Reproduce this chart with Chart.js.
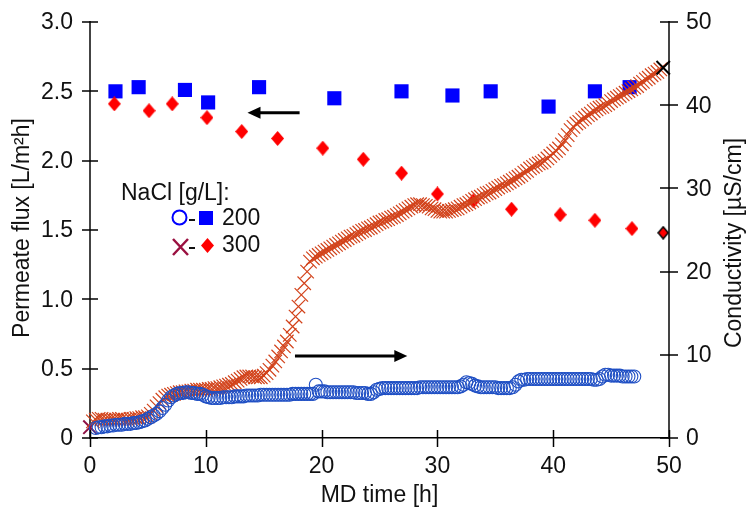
<!DOCTYPE html>
<html><head><meta charset="utf-8">
<script src="https://cdn.jsdelivr.net/npm/chart.js@4"></script>
<style>html,body{margin:0;padding:0;background:#fff;}canvas{display:block;}</style>
</head><body>
<canvas id="c" width="747" height="511"></canvas>
<script>
// ---- data ----
const fluxTime200 = [2.2,4.2,8.2,10.2,14.6,21.1,26.9,31.3,34.6,39.6,43.6,46.6];
const flux200     = [2.50,2.53,2.51,2.42,2.53,2.45,2.50,2.47,2.50,2.39,2.50,2.53];
const fluxTime300 = [2.1,5.1,7.1,10.1,13.1,16.2,20.1,23.6,26.9,30.0,33.1,36.4,40.6,43.6,46.8,49.5];
const flux300     = [2.41,2.36,2.41,2.31,2.21,2.16,2.09,2.01,1.91,1.76,1.71,1.65,1.61,1.57,1.51,1.48];

const condTime200 = [0.5,0.75,
1,1.25,1.5,1.75,2,2.25,2.5,2.75,3,3.25,3.5,3.75,4,4.25,4.5,4.75,5,5.25,5.5,5.75,6,6.25,6.5,6.75,7,7.25,7.5,7.75,8,8.25,8.5,8.75,9,9.25,9.5,9.75,
10,10.25,10.5,10.75,11,11.25,11.5,11.75,12,12.25,12.5,12.75,13,13.25,13.5,13.75,14,14.25,14.5,14.75,15,15.25,15.5,15.75,16,16.25,16.5,16.75,17,17.25,17.5,17.75,18,18.25,18.5,18.75,19,19.25,19.5,19.75,
20,20.25,20.5,20.75,21,21.25,21.5,21.75,22,22.25,22.5,22.75,23,23.25,23.5,23.75,24,24.25,24.5,24.75,25,25.25,25.5,25.75,26,26.25,26.5,26.75,27,27.25,27.5,27.75,28,28.25,28.5,28.75,29,29.25,29.5,29.75,
30,30.25,30.5,30.75,31,31.25,31.5,31.75,32,32.25,32.5,32.75,33,33.25,33.5,33.75,34,34.25,34.5,34.75,35,35.25,35.5,35.75,36,36.25,36.5,36.75,37,37.25,37.5,37.75,38,38.25,38.5,38.75,39,39.25,39.5,39.75,
40,40.25,40.5,40.75,41,41.25,41.5,41.75,42,42.25,42.5,42.75,43,43.25,43.5,43.75,44,44.25,44.5,44.75,45,45.25,45.5,45.75,46,46.25,46.5,46.75,47];
const cond200 = [1.2,1.3,
1.3,1.4,1.4,1.5, 1.5,1.6,1.6,1.6, 1.7,1.7,1.7,1.8, 1.8,1.9,2.0,2.1, 2.3,2.5,2.7,2.9, 3.2,3.6,4.0,4.5, 4.9,5.1,5.3,5.4, 5.4,5.5,5.5,5.4, 5.4,5.3,5.3,5.2,
5.0,4.9,4.8,4.8, 4.8,4.8,4.9,4.9, 4.9,4.9,5.0,5.0, 5.0,5.0,5.1,5.1, 5.1,5.1,5.1,5.2, 5.2,5.2,5.2,5.2, 5.2,5.2,5.2,5.2, 5.2,5.2,5.3,5.3, 5.3,5.3,5.3,5.3, 5.3,5.3,6.4,5.6,
5.6,5.6,5.5,5.5, 5.5,5.5,5.5,5.5, 5.5,5.5,5.5,5.5, 5.4,5.4,5.4,5.4, 5.3,5.3,5.5,5.8, 5.9,6.0,6.0,6.0, 6.0,6.0,6.0,6.0, 6.0,6.0,6.0,6.0, 6.0,6.0,6.1,6.1, 6.1,6.1,6.1,6.1,
6.1,6.1,6.1,6.1, 6.1,6.1,6.1,6.1, 6.2,6.4,6.7,6.6, 6.5,6.3,6.2,6.1, 6.1,6.1,6.1,6.1, 6.1,6.0,6.0,6.0, 6.0,6.0,6.1,6.4, 6.8,7.0,7.0,7.1, 7.1,7.1,7.1,7.1, 7.1,7.1,7.1,7.1,
7.1,7.1,7.1,7.1, 7.1,7.1,7.1,7.1, 7.1,7.1,7.1,7.1, 7.1,7.1,7.0,7.0, 7.1,7.4,7.6,7.6, 7.5,7.5,7.5,7.5, 7.4,7.4,7.4,7.4, 7.4];

const condTime300 = [0,0.25,0.5,0.75,1,1.25,1.5,1.75,2,2.25,2.5,2.75,3,3.25,3.5,3.75,4,4.25,4.5,4.75,5,5.25,5.5,5.75,6,6.25,6.5,6.75,7,7.25,7.5,7.75,8,8.25,8.5,8.75,9,9.25,9.5,9.75,
10,10.25,10.5,10.75,11,11.25,11.5,11.75,12,12.25,12.5,12.75,13,13.25,13.5,13.75,14,14.25,14.5,14.75,15,15.25,15.5,15.75,16,16.25,16.5,16.75,17,17.25,17.5,17.75,18,18.25,18.5,18.75,19,19.25,19.5,19.75,
20,20.25,20.5,20.75,21,21.25,21.5,21.75,22,22.25,22.5,22.75,23,23.25,23.5,23.75,24,24.25,24.5,24.75,25,25.25,25.5,25.75,26,26.25,26.5,26.75,27,27.25,27.5,27.75,28,28.25,28.5,28.75,29,29.25,29.5,29.75,
30,30.25,30.5,30.75,31,31.25,31.5,31.75,32,32.25,32.5,32.75,33,33.25,33.5,33.75,34,34.25,34.5,34.75,35,35.25,35.5,35.75,36,36.25,36.5,36.75,37,37.25,37.5,37.75,38,38.25,38.5,38.75,39,39.25,39.5,39.75,
40,40.25,40.5,40.75,41,41.25,41.5,41.75,42,42.25,42.5,42.75,43,43.25,43.5,43.75,44,44.25,44.5,44.75,45,45.25,45.5,45.75,46,46.25,46.5,46.75,47,47.25,47.5,47.75,48,48.25,48.5,48.75,49,49.25,49.5];
const cond300 = [1.3,2.0,2.2,2.3, 2.3,2.2,2.2,2.2, 2.2,2.2,2.3,2.3, 2.2,2.2,2.3,2.3, 2.4,2.4,2.5,2.5, 2.6,2.9,3.3,3.8, 4.2,4.6,4.9,5.1, 5.2,5.3,5.4,5.5, 5.5,5.6,5.6,5.7, 5.7,5.8,5.8,5.8,
5.8,5.9,5.9,6.0, 6.0,6.1,6.2,6.3, 6.4,6.5,6.7,6.9, 7.1,7.3,7.4,7.4, 7.4,7.3,7.3,7.3, 7.5,7.8,8.2,8.7, 9.2,9.8,10.4,11.0, 11.6,12.4,13.4,14.6, 15.8,17.2,18.6,20.0, 21.2,21.6,21.8,22.0,
22.2,22.4,22.6,22.8, 23.0,23.2,23.4,23.6, 23.8,24.0,24.2,24.3, 24.5,24.7,24.9,25.0, 25.2,25.3,25.5,25.7, 25.9,26.0,26.2,26.3, 26.5,26.6,26.8,27.0, 27.2,27.4,27.6,27.8, 28.0,28.1,28.1,28.0, 27.9,27.8,27.6,27.5,
27.3,27.2,27.2,27.2, 27.3,27.4,27.5,27.6, 27.8,28.0,28.1,28.3, 28.5,28.7,28.9,29.0, 29.2,29.4,29.5,29.7, 29.9,30.1,30.3,30.4, 30.6,30.8,31.0,31.2, 31.4,31.6,31.9,32.1, 32.4,32.6,32.8,33.0, 33.1,33.3,33.6,33.9,
34.2,34.5,34.8,35.3, 35.8,36.4,37.0,37.4, 37.8,38.0,38.3,38.5, 38.8,39.0,39.3,39.5, 39.7,39.8,40.0,40.2, 40.5,40.7,40.9,41.1, 41.3,41.5,41.7,41.9, 42.1,42.3,42.6,42.8, 43.1,43.3,43.6,43.8, 44.0,44.3,44.5];

const xTicks = [0,10,20,30,40,50];
const fluxTicks = [0,0.5,1.0,1.5,2.0,2.5,3.0];
const fluxTickLabels = ['0','0.5','1.0','1.5','2.0','2.5','3.0'];
const condTicks = [0,10,20,30,40,50];

const xTitle = 'MD time [h]';
const fluxTitle = 'Permeate flux [L/m\u00B2h]';
const condTitle = 'Conductivity [\u00B5S/cm]';
const legendTitle = 'NaCl [g/L]:';
const legendLabels = ['200','300'];

// arrow annotations: [fromX, toX, y] in data units
const arrowFlux = [18.1, 13.6, 2.345];
const arrowCond = [17.7, 27.4, 9.85];

// ---- styles ----
const FONT = '23px "Liberation Sans", Arial, Helvetica, sans-serif';
const BLUE_RING = '#1f4fc4';
const RED_X = '#d2421a';

function diamondImg(w, h, fill, stroke) {
  const c = document.createElement('canvas');
  c.width = w; c.height = h;
  const g = c.getContext('2d');
  const i = stroke ? 1 : 0;
  g.beginPath();
  g.moveTo(w/2, i); g.lineTo(w - i, h/2); g.lineTo(w/2, h - i); g.lineTo(i, h/2);
  g.closePath();
  g.fillStyle = fill; g.fill();
  if (stroke) { g.strokeStyle = stroke; g.lineWidth = 1.5; g.stroke(); }
  return c;
}
const diaRed = diamondImg(13, 15, '#ff0000');
const diaEnd = diamondImg(12, 14, '#ff0000', '#000');

const pts = (xs, ys) => xs.map((x, i) => ({x, y: ys[i]}));

const overlay = {
  id: 'overlay',
  afterDatasetsDraw(chart) {
    const ctx = chart.ctx, sx = chart.scales.x, sy = chart.scales.y, sr = chart.scales.yR;
    ctx.save();
    ctx.fillStyle = '#000'; ctx.strokeStyle = '#000'; ctx.lineWidth = 3;
    function arrow(x1, x2, y) {
      const dir = Math.sign(x2 - x1), head = 13, hw = 6;
      ctx.beginPath(); ctx.moveTo(x1, y); ctx.lineTo(x2 - dir * head * 0.8, y); ctx.stroke();
      ctx.beginPath(); ctx.moveTo(x2, y); ctx.lineTo(x2 - dir * head, y - hw);
      ctx.lineTo(x2 - dir * head, y + hw); ctx.closePath(); ctx.fill();
    }
    arrow(sx.getPixelForValue(arrowFlux[0]), sx.getPixelForValue(arrowFlux[1]), sy.getPixelForValue(arrowFlux[2]));
    arrow(sx.getPixelForValue(arrowCond[0]), sx.getPixelForValue(arrowCond[1]), sr.getPixelForValue(arrowCond[2]));
    ctx.restore();
  },
  afterDraw(chart) {
    const ctx = chart.ctx, a = chart.chartArea;
    const sx = chart.scales.x, sy = chart.scales.y, sr = chart.scales.yR;
    ctx.save();
    ctx.strokeStyle = '#000'; ctx.lineWidth = 1.5;
    // tick marks crossing axes
    xTicks.forEach(v => { const p = Math.round(sx.getPixelForValue(v)) + 0.5;
      ctx.beginPath(); ctx.moveTo(p, a.bottom - 8); ctx.lineTo(p, a.bottom + 9); ctx.stroke(); });
    fluxTicks.forEach(v => { const p = Math.round(sy.getPixelForValue(v));
      ctx.beginPath(); ctx.moveTo(a.left - 8, p); ctx.lineTo(a.left + 8, p); ctx.stroke(); });
    condTicks.forEach(v => { const p = Math.round(sr.getPixelForValue(v));
      ctx.beginPath(); ctx.moveTo(a.right - 9, p); ctx.lineTo(a.right + 9, p); ctx.stroke(); });
    // tick labels
    ctx.fillStyle = '#111'; ctx.font = FONT; ctx.textBaseline = 'middle';
    ctx.textAlign = 'center';
    xTicks.forEach(v => ctx.fillText(String(v), sx.getPixelForValue(v), a.bottom + 29));
    ctx.textAlign = 'right';
    fluxTicks.forEach((v, i) => ctx.fillText(fluxTickLabels[i], a.left - 17, sy.getPixelForValue(v) + 1));
    ctx.textAlign = 'left';
    condTicks.forEach(v => ctx.fillText(String(v), a.right + 17, sr.getPixelForValue(v) + 1));
    // axis titles
    ctx.textAlign = 'center';
    ctx.fillText(xTitle, (a.left + a.right) / 2, a.bottom + 58);
    ctx.save(); ctx.translate(23, 228); ctx.rotate(-Math.PI / 2); ctx.fillText(fluxTitle, 0, 0); ctx.restore();
    ctx.save(); ctx.translate(735, 243); ctx.rotate(-Math.PI / 2); ctx.fillText(condTitle, 0, 0); ctx.restore();
    // legend
    ctx.textAlign = 'left'; ctx.textBaseline = 'alphabetic';
    ctx.fillText(legendTitle, 121, 200);
    ctx.fillText(legendLabels[0], 222, 225);
    ctx.fillText(legendLabels[1], 222, 252);
    // row 1 markers
    ctx.strokeStyle = '#0000ff'; ctx.lineWidth = 2;
    ctx.beginPath(); ctx.arc(179.5, 217.5, 7, 0, Math.PI * 2); ctx.stroke();
    ctx.fillStyle = '#111'; ctx.fillRect(189, 219, 6, 2);
    ctx.fillStyle = '#0000ff'; ctx.fillRect(199, 211, 14, 14);
    // row 2 markers
    ctx.strokeStyle = '#9a1040'; ctx.lineWidth = 2.5;
    ctx.beginPath(); ctx.moveTo(173, 239); ctx.lineTo(188, 255); ctx.moveTo(188, 239); ctx.lineTo(173, 255); ctx.stroke();
    ctx.fillStyle = '#111'; ctx.fillRect(189, 247, 6, 2);
    ctx.drawImage(diaRed, 201, 238);
    ctx.restore();
  }
};

const red300Colors = cond300.map((v, i) => i === 0 ? '#8e1044' : (i === cond300.length - 1 ? '#000' : RED_X));
const red300Widths = cond300.map((v, i) => (i === 0 || i === cond300.length - 1) ? 2 : 1.2);
const flux300Styles = flux300.map((v, i) => i === flux300.length - 1 ? diaEnd : diaRed);

new Chart(document.getElementById('c'), {
  type: 'scatter',
  data: {
    datasets: [
      { label: 'cond200', data: pts(condTime200, cond200), yAxisID: 'yR', order: 1,
        pointStyle: 'circle', pointRadius: 6.5, pointBorderWidth: 1.1,
        pointBorderColor: BLUE_RING, pointBackgroundColor: 'rgba(0,0,0,0)', clip: false },
      { label: 'cond300', data: pts(condTime300, cond300), yAxisID: 'yR', order: 2,
        pointStyle: 'crossRot', pointRadius: 9.5, pointBorderWidth: red300Widths,
        pointBorderColor: red300Colors, clip: false },
      { label: 'flux300', data: pts(fluxTime300, flux300), yAxisID: 'y', order: 3,
        pointStyle: flux300Styles, pointRadius: 7, clip: false },
      { label: 'flux200', data: pts(fluxTime200, flux200), yAxisID: 'y', order: 4,
        pointStyle: 'rect', pointRadius: 10, pointBorderWidth: 0,
        pointBackgroundColor: '#0000ff', clip: false }
    ]
  },
  options: {
    responsive: false, animation: false, devicePixelRatio: 1,
    layout: { padding: { top: 22, left: 0, right: 0, bottom: 0 } },
    plugins: { legend: { display: false }, tooltip: { enabled: false } },
    scales: {
      x: { type: 'linear', min: 0, max: 50, ticks: { display: false, stepSize: 10 },
           grid: { display: false }, border: { display: true, color: '#000', width: 1.5 },
           afterFit(s) { s.height = 73; } },
      y: { type: 'linear', position: 'left', min: 0, max: 3, ticks: { display: false, stepSize: 0.5 },
           grid: { display: false }, border: { display: true, color: '#444', width: 2 },
           afterFit(s) { s.width = 90; } },
      yR: { type: 'linear', position: 'right', min: 0, max: 50, ticks: { display: false, stepSize: 10 },
           grid: { display: false }, border: { display: true, color: '#444', width: 2 },
           afterFit(s) { s.width = 78; } }
    }
  },
  plugins: [overlay]
});
</script>
</body></html>
